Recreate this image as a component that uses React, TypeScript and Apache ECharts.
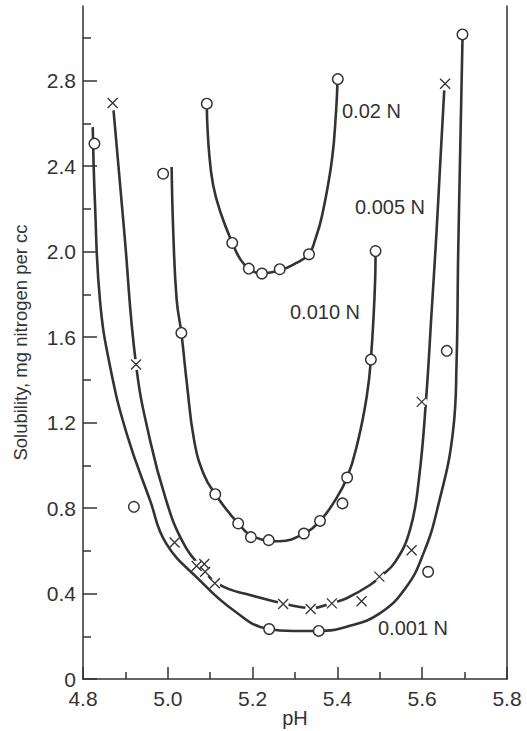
import React, { useEffect, useRef } from "react";
import * as echarts from "echarts";

// Tick values
const xMin = 4.8;
const xMax = 5.8;
const yMax = 3.15;
const yMajorTicks = [0, 0.4, 0.8, 1.2, 1.6, 2.0, 2.4, 2.8];
const yMinorTicks = [0.2, 0.6, 1.0, 1.4, 1.8, 2.2, 2.6, 3.0];

// Measured points [pH, solubility]
const n002Points = [[5.092, 2.693], [5.152, 2.041], [5.191, 1.921], [5.222, 1.898], [5.264, 1.918], [5.333, 1.988], [5.401, 2.808]];
const n010Points = [[4.989, 2.365], [5.032, 1.62], [5.112, 0.865], [5.166, 0.728], [5.196, 0.664], [5.238, 0.65], [5.321, 0.681], [5.359, 0.74], [5.412, 0.822], [5.423, 0.943], [5.479, 1.495], [5.49, 2.003]];
const n005Points = [[4.87, 2.696], [4.925, 1.472], [5.016, 0.639], [5.068, 0.529], [5.086, 0.538], [5.088, 0.502], [5.111, 0.448], [5.272, 0.351], [5.337, 0.328], [5.387, 0.354], [5.457, 0.364], [5.499, 0.479], [5.575, 0.603], [5.599, 1.297], [5.654, 2.786]];
const n001Points = [[4.827, 2.506], [4.92, 0.806], [5.239, 0.234], [5.356, 0.225], [5.614, 0.502], [5.658, 1.536], [5.695, 3.017]];

// Drawn (fitted) curves
const n002Curve = [[5.092, 2.671], [5.097, 2.474], [5.107, 2.311], [5.125, 2.18], [5.152, 2.042], [5.17, 1.968], [5.191, 1.921], [5.222, 1.899], [5.265, 1.913], [5.302, 1.946], [5.333, 1.988], [5.347, 2.053], [5.364, 2.17], [5.387, 2.428], [5.397, 2.661], [5.4, 2.788]];
const n010Curve = [[5.009, 2.396], [5.013, 2.085], [5.021, 1.773], [5.032, 1.62], [5.045, 1.383], [5.062, 1.118], [5.084, 0.962], [5.112, 0.865], [5.166, 0.728], [5.205, 0.664], [5.264, 0.645], [5.321, 0.681], [5.359, 0.74], [5.39, 0.822], [5.423, 0.943], [5.449, 1.118], [5.469, 1.32], [5.479, 1.495], [5.489, 1.866], [5.49, 2.003]];
const n005Curve = [[4.872, 2.661], [4.897, 2.1], [4.925, 1.473], [4.958, 1.118], [4.996, 0.837], [5.033, 0.65], [5.076, 0.529], [5.123, 0.44], [5.194, 0.393], [5.288, 0.346], [5.338, 0.332], [5.394, 0.36], [5.423, 0.379], [5.477, 0.44], [5.5, 0.477], [5.536, 0.547], [5.571, 0.697], [5.592, 0.931], [5.609, 1.305], [5.622, 1.712], [5.634, 2.1], [5.642, 2.395], [5.652, 2.755]];
const n001Curve = [[4.823, 2.583], [4.828, 2.24], [4.84, 1.773], [4.864, 1.461], [4.903, 1.149], [4.958, 0.837], [4.996, 0.635], [5.075, 0.463], [5.154, 0.323], [5.237, 0.234], [5.296, 0.225], [5.355, 0.225], [5.422, 0.245], [5.5, 0.307], [5.563, 0.432], [5.603, 0.588], [5.635, 0.79], [5.673, 1.165], [5.681, 1.477], [5.685, 2.007], [5.695, 2.992]];

const curveLabels = ["0.02 N", "0.005 N", "0.010 N", "0.001 N"];

const FONT = "'Liberation Sans', Arial, Helvetica, sans-serif";
const INK = "#333";

export default function App() {
  const ref = useRef<HTMLDivElement>(null);
  useEffect(() => {
    if (!ref.current) return;
    const chart = echarts.init(ref.current, null, { renderer: "svg" });
    const lineSeries = (data: number[][]) => ({
      type: "line",
      data,
      smooth: 0.45,
      symbol: "none",
      silent: true,
      lineStyle: { color: INK, width: 2.6 },
      z: 2,
    });
    const circleSeries = (data: number[][]) => ({
      type: "scatter",
      data,
      symbol: "circle",
      symbolSize: 10.5,
      silent: true,
      itemStyle: { color: "#fff", borderColor: INK, borderWidth: 1.4, opacity: 1 },
      z: 5,
    });
    chart.setOption({
      animation: false,
      backgroundColor: "#fff",
      textStyle: { fontFamily: FONT },
      grid: { left: 83, right: 20, top: 6, bottom: 52, containLabel: false, outerBoundsMode: "none" },
      xAxis: {
        type: "value",
        min: xMin,
        max: xMax,
        interval: 0.2,
        name: "pH",
        nameLocation: "middle",
        nameGap: 29,
        nameMoveOverlap: false,
        nameTextStyle: { fontSize: 20, color: INK, fontFamily: FONT },
        axisLine: { lineStyle: { color: INK, width: 1.5 } },
        axisTick: { inside: true, length: 12, lineStyle: { color: INK, width: 1.5 } },
        minorTick: { show: true, splitNumber: 2, length: 7, lineStyle: { color: INK, width: 1.5 } },
        axisLabel: { fontSize: 21, color: INK, margin: 9, fontFamily: FONT, formatter: (v: number) => v.toFixed(1) },
        splitLine: { show: false },
      },
      yAxis: [
        {
          type: "value",
          position: "left",
          min: 0,
          max: yMax,
          name: "Solubility, mg nitrogen per cc",
          nameLocation: "middle",
          nameGap: 53,
          nameMoveOverlap: false,
          nameTextStyle: { fontSize: 18.5, color: INK, fontFamily: FONT },
          axisLine: { show: true, lineStyle: { color: INK, width: 1.5 } },
          axisTick: { show: true, inside: true, length: 14, customValues: yMajorTicks, lineStyle: { color: INK, width: 1.5 } },
          axisLabel: {
            fontSize: 21,
            color: INK,
            margin: 7,
            fontFamily: FONT,
            customValues: yMajorTicks,
            formatter: (v: number) => (v === 0 ? "0" : v.toFixed(1)),
          },
          splitLine: { show: false },
        },
        {
          type: "value",
          position: "right",
          min: 0,
          max: yMax,
          axisLine: { show: true, lineStyle: { color: INK, width: 1.5 } },
          axisTick: { show: false },
          axisLabel: { show: false },
          splitLine: { show: false },
        },
        {
          type: "value",
          position: "left",
          min: 0,
          max: yMax,
          axisLine: { show: false },
          axisTick: { show: true, inside: true, length: 8, customValues: yMinorTicks, lineStyle: { color: INK, width: 1.5 } },
          axisLabel: { show: false },
          splitLine: { show: false },
        },
      ],
      series: [
        lineSeries(n002Curve),
        lineSeries(n010Curve),
        lineSeries(n005Curve),
        lineSeries(n001Curve),
        {
          type: "scatter",
          data: n005Points,
          symbol: "circle",
          symbolSize: 11,
          silent: true,
          itemStyle: { color: "#fff", borderWidth: 0, opacity: 1 },
          z: 3,
        },
        {
          type: "scatter",
          data: n005Points,
          symbol: "path://M0,0L10,10M10,0L0,10",
          symbolSize: 10,
          silent: true,
          itemStyle: { color: "none", borderColor: INK, borderWidth: 1.3, opacity: 1 },
          z: 4,
        },
        circleSeries(n002Points),
        circleSeries(n010Points),
        circleSeries(n001Points),
      ],
      graphic: [
        { type: "text", x: 342, y: 111, style: { text: curveLabels[0], fontSize: 20, fontFamily: FONT, fill: INK, verticalAlign: "middle" } },
        { type: "text", x: 355, y: 207, style: { text: curveLabels[1], fontSize: 20, fontFamily: FONT, fill: INK, verticalAlign: "middle" } },
        { type: "text", x: 290, y: 312, style: { text: curveLabels[2], fontSize: 20, fontFamily: FONT, fill: INK, verticalAlign: "middle" } },
        { type: "text", x: 378, y: 628, style: { text: curveLabels[3], fontSize: 20, fontFamily: FONT, fill: INK, verticalAlign: "middle" } },
      ],
    });
    return () => chart.dispose();
  }, []);
  return <div ref={ref} style={{ position: "absolute", left: 0, top: 0, width: 527, height: 731, background: "#fff" }} />;
}
